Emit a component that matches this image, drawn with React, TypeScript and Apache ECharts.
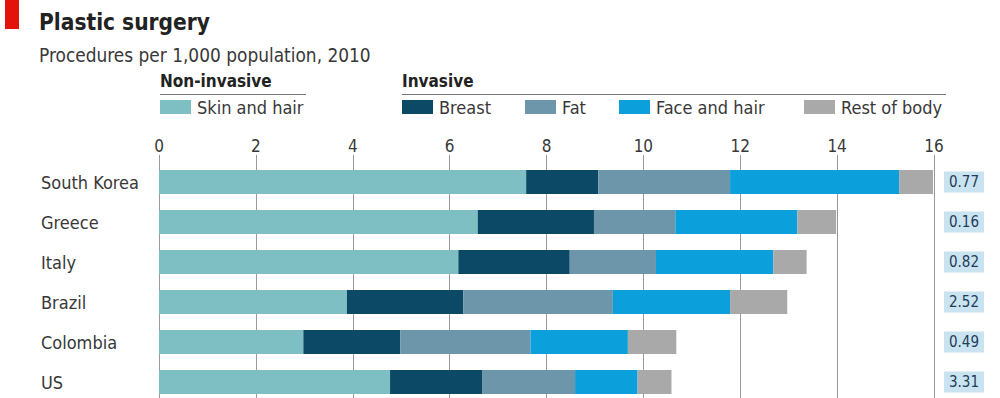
import React, { useEffect, useRef } from "react";
import * as echarts from "echarts";

const categories = ["South Korea", "Greece", "Italy", "Brazil", "Colombia", "US"];
const skinAndHair = [7.58, 6.58, 6.18, 3.88, 2.98, 4.77];
const breast = [1.49, 2.4, 2.3, 2.4, 2.0, 1.91];
const fat = [2.72, 1.68, 1.78, 3.09, 2.69, 1.91];
const faceAndHair = [3.49, 2.52, 2.42, 2.42, 2.01, 1.29];
const restOfBody = [0.7, 0.8, 0.69, 1.18, 1.0, 0.7];
const otherValues = [0.77, 0.16, 0.82, 2.52, 0.49, 3.31];

const FONT = '"DejaVu Sans Condensed", "DejaVu Sans", sans-serif';

const seriesDefs = [
  { name: "Skin and hair", data: skinAndHair, color: "#7dbfc3" },
  { name: "Breast", data: breast, color: "#0b4966" },
  { name: "Fat", data: fat, color: "#6d96ab" },
  { name: "Face and hair", data: faceAndHair, color: "#0b9fdb" },
  { name: "Rest of body", data: restOfBody, color: "#a9a9a9" },
];

const legendLefts = [160, 402, 525, 619, 804];

export default function App() {
  const ref = useRef<HTMLDivElement>(null);
  useEffect(() => {
    document.body.style.margin = "0";
    const chart = echarts.init(ref.current!, null, { renderer: "svg" });
    const legendCommon = {
      orient: "horizontal",
      padding: 0,
      top: 98,
      itemWidth: 31,
      itemHeight: 14,
      itemGap: 0,
      icon: "rect",
      selectedMode: false,
      textStyle: { fontSize: 18, color: "#383838", fontFamily: FONT, padding: [0, 0, 0, 1] },
    };
    chart.setOption({
      animation: false,
      backgroundColor: "#ffffff",
      title: [
        {
          text: "Plastic surgery",
          left: 39,
          top: 10,
          padding: 0,
          textStyle: { fontSize: 22.5, fontWeight: "bold", color: "#222", fontFamily: FONT },
        },
        {
          text: "Procedures per 1,000 population, 2010",
          left: 39,
          top: 45,
          padding: 0,
          textStyle: { fontSize: 18.9, fontWeight: "normal", color: "#383838", fontFamily: FONT },
        },
      ],
      legend: seriesDefs.map((s, i) => ({
        ...legendCommon,
        left: legendLefts[i],
        data: [s.name],
      })),
      grid: { left: 159, right: 66, top: 162, height: 240, containLabel: false },
      xAxis: {
        type: "value",
        position: "top",
        min: 0,
        max: 16,
        interval: 2,
        axisLine: { show: false },
        axisTick: { show: true, length: 7, lineStyle: { color: "#999", width: 1 } },
        splitLine: { show: true, lineStyle: { color: "#999", width: 1 } },
        axisLabel: { fontSize: 17, color: "#383838", fontFamily: FONT, margin: 8 },
      },
      yAxis: [
        {
          type: "category",
          data: categories,
          inverse: true,
          axisLine: { show: false },
          axisTick: { show: false },
          splitLine: { show: false },
          axisLabel: { align: "left", margin: 118, fontSize: 18, color: "#383838", fontFamily: FONT },
        },
        {
          type: "category",
          data: categories,
          inverse: true,
          position: "right",
          axisLine: { show: false },
          axisTick: { show: false },
          splitLine: { show: false },
          axisLabel: {
            align: "left",
            margin: 10,
            fontSize: 15,
            lineHeight: 15,
            color: "#1e3c58",
            fontFamily: FONT,
            backgroundColor: "#c9e3f1",
            padding: [3, 5, 3, 5],
            formatter: (_v: string, i: number) => otherValues[i].toFixed(2),
          },
        },
      ],
      series: seriesDefs.map((s) => ({
        name: s.name,
        type: "bar",
        stack: "total",
        barWidth: 24,
        yAxisIndex: 0,
        data: s.data,
        itemStyle: { color: s.color },
        emphasis: { disabled: true },
      })),
      graphic: [
        { type: "rect", shape: { x: 5, y: 0, width: 14, height: 29 }, style: { fill: "#e3120b" } },
        {
          type: "text",
          x: 160,
          y: 81,
          style: { text: "Non-invasive", font: `bold 17px ${FONT}`, fill: "#222", verticalAlign: "middle" },
        },
        {
          type: "text",
          x: 402,
          y: 81,
          style: { text: "Invasive", font: `bold 17px ${FONT}`, fill: "#222", verticalAlign: "middle" },
        },
        { type: "line", shape: { x1: 160, y1: 94.5, x2: 306, y2: 94.5 }, style: { stroke: "#777", lineWidth: 1 } },
        { type: "line", shape: { x1: 402, y1: 94.5, x2: 946, y2: 94.5 }, style: { stroke: "#777", lineWidth: 1 } },
      ],
    });
    return () => chart.dispose();
  }, []);
  return (
    <div style={{ width: 1000, height: 398, overflow: "hidden", position: "relative" }}>
      <div ref={ref} style={{ width: 1000, height: 412 }} />
    </div>
  );
}
